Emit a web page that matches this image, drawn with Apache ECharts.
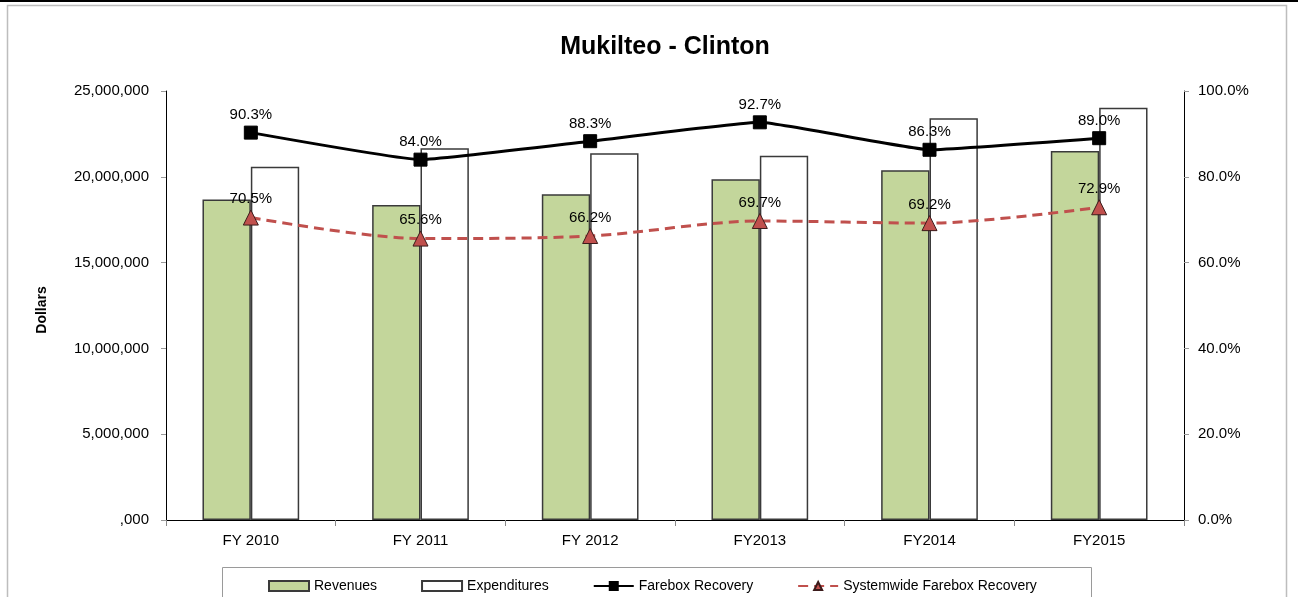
<!DOCTYPE html>
<html>
<head>
<meta charset="utf-8">
<script src="https://cdn.jsdelivr.net/npm/echarts@6/dist/echarts.min.js"></script>
<style>
  html, body { margin: 0; padding: 0; background: #fff; }
  #chart { width: 1298px; height: 597px; }
</style>
</head>
<body>
<div id="chart"></div>
<script>
// Fiscal years on the category axis
var categories = ['FY 2010', 'FY 2011', 'FY 2012', 'FY2013', 'FY2014', 'FY2015'];
// Route revenues and expenditures, in dollars
var revenues = [18670000, 18360000, 18980000, 19850000, 20380000, 21500000];
var expenditures = [20590000, 21660000, 21370000, 21230000, 23410000, 24030000];
// Farebox recovery ratios, in percent
var fareboxRecovery = [90.3, 84.0, 88.3, 92.7, 86.3, 89.0];
var systemwideRecovery = [70.5, 65.6, 66.2, 69.7, 69.2, 72.9];

var FONT = '"Liberation Sans", Arial, sans-serif';

function dollars(v) {
  if (v === 0) return ',000';
  return v.toString().replace(/\B(?=(\d{3})+(?!\d))/g, ',');
}

function pct(p) { return p.value.toFixed(1) + '%'; }

var chart = echarts.init(document.getElementById('chart'), null, { renderer: 'canvas' });

chart.setOption({
  animation: false,
  backgroundColor: '#ffffff',
  textStyle: { fontFamily: FONT },
  title: {
    text: 'Mukilteo - Clinton',
    left: 660,
    top: 30,
    textAlign: 'center',
    textStyle: { fontFamily: FONT, fontSize: 25, fontWeight: 'bold', color: '#000' }
  },
  graphic: [
    { type: 'line', shape: { x1: 0, y1: 1, x2: 1298, y2: 1 }, style: { stroke: '#000', lineWidth: 2 }, silent: true },
    { type: 'rect', shape: { x: 7.5, y: 5.5, width: 1279, height: 610 }, style: { fill: 'none', stroke: '#bdbdbd', lineWidth: 1.5 }, silent: true, z: -1 },
    { type: 'rect', shape: { x: 222.5, y: 567.5, width: 869, height: 40 }, style: { fill: 'none', stroke: '#9a9a9a', lineWidth: 1 }, silent: true },
    {
      type: 'text', x: 42, y: 310, rotation: Math.PI / 2,
      style: { text: 'Dollars', font: 'bold 14px ' + FONT, fill: '#000', textAlign: 'center', textVerticalAlign: 'middle' },
      silent: true
    }
  ],
  legend: {
    left: 263,
    top: 574,
    itemWidth: 40,
    itemHeight: 10,
    itemGap: 44,
    textStyle: { fontFamily: FONT, fontSize: 14, color: '#000' },
    data: [
      { name: 'Revenues', icon: 'rect' },
      { name: 'Expenditures', icon: 'rect' },
      'Farebox Recovery',
      'Systemwide Farebox Recovery'
    ]
  },
  grid: { left: 166, right: 114, top: 91, bottom: 77, containLabel: false },
  xAxis: {
    type: 'category',
    data: categories,
    axisLine: { lineStyle: { color: '#000', width: 1 } },
    axisTick: { show: true, length: 6, lineStyle: { color: '#888' } },
    axisLabel: { fontFamily: FONT, fontSize: 15, color: '#000', margin: 13 }
  },
  yAxis: [
    {
      type: 'value',
      min: 0,
      max: 25000000,
      interval: 5000000,
      splitLine: { show: false },
      axisLine: { show: true, lineStyle: { color: '#000', width: 1 } },
      axisTick: { show: true, length: 5, lineStyle: { color: '#999' } },
      axisLabel: { fontFamily: FONT, fontSize: 15, color: '#000', margin: 17, formatter: dollars }
    },
    {
      type: 'value',
      min: 0,
      max: 100,
      interval: 20,
      position: 'right',
      splitLine: { show: false },
      axisLine: { show: true, lineStyle: { color: '#000', width: 1 } },
      axisTick: { show: true, length: 5, lineStyle: { color: '#999' } },
      axisLabel: { fontFamily: FONT, fontSize: 15, color: '#000', margin: 14, formatter: function (v) { return v.toFixed(1) + '%'; } }
    }
  ],
  series: [
    {
      name: 'Revenues',
      type: 'bar',
      data: revenues,
      barGap: '0%',
      barCategoryGap: '43%',
      itemStyle: { color: '#C3D69B', borderColor: '#3a3a3a', borderWidth: 1.5 }
    },
    {
      name: 'Expenditures',
      type: 'bar',
      data: expenditures,
      itemStyle: { color: '#ffffff', borderColor: '#3a3a3a', borderWidth: 1.5 }
    },
    {
      name: 'Farebox Recovery',
      type: 'line',
      yAxisIndex: 1,
      data: fareboxRecovery,
      smooth: 0.1,
      symbol: 'rect',
      symbolSize: 13,
      lineStyle: { color: '#000', width: 3 },
      itemStyle: { color: '#000', borderColor: '#000', borderWidth: 1 },
      label: { show: true, position: 'top', distance: 3, fontFamily: FONT, fontSize: 15, color: '#000', formatter: pct },
      z: 5
    },
    {
      name: 'Systemwide Farebox Recovery',
      type: 'line',
      yAxisIndex: 1,
      data: systemwideRecovery,
      smooth: 0.3,
      symbol: 'triangle',
      symbolSize: 15,
      lineStyle: { color: '#C0504D', width: 3, type: [10, 6] },
      itemStyle: { color: '#C0504D', borderColor: '#3b1b1b', borderWidth: 1 },
      label: { show: true, position: 'top', distance: 3, fontFamily: FONT, fontSize: 15, color: '#000', formatter: pct },
      z: 4
    }
  ]
});
</script>
</body>
</html>
